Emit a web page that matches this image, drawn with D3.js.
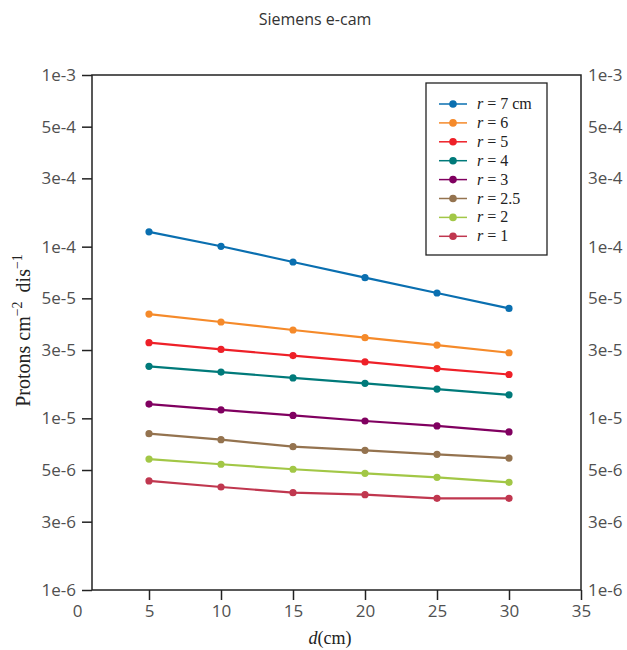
<!DOCTYPE html>
<html>
<head>
<meta charset="utf-8">
<script src="https://cdn.jsdelivr.net/npm/d3@7"></script>
<style>
  body { margin: 0; background: #fff; }
  .tick text { font-family: "Open Sans", sans-serif; fill: #505050; }
</style>
</head>
<body>
<div id="chart"></div>
<script>
// distances d (cm)
const distances = [5, 10, 15, 20, 25, 30];
const radiusLabels = ["7 cm", "6", "5", "4", "3", "2.5", "2", "1"];
const seriesColors = ["#0a6fb0", "#f58a2a", "#ee2028", "#007a7a", "#800060", "#94734f", "#a2c746", "#c0374f"];

const r7 = [1.22e-4, 1.005e-4, 8.14e-5, 6.6e-5, 5.37e-5, 4.37e-5];
const r6 = [4.05e-5, 3.64e-5, 3.27e-5, 2.95e-5, 2.67e-5, 2.41e-5];
const r5 = [2.76e-5, 2.52e-5, 2.32e-5, 2.13e-5, 1.95e-5, 1.80e-5];
const r4 = [2.01e-5, 1.86e-5, 1.72e-5, 1.60e-5, 1.48e-5, 1.37e-5];
const r3 = [1.21e-5, 1.12e-5, 1.04e-5, 9.65e-6, 9.03e-6, 8.33e-6];
const r25 = [8.14e-6, 7.51e-6, 6.84e-6, 6.51e-6, 6.17e-6, 5.87e-6];
const r2 = [5.79e-6, 5.40e-6, 5.05e-6, 4.78e-6, 4.53e-6, 4.24e-6];
const r1 = [4.32e-6, 3.98e-6, 3.69e-6, 3.59e-6, 3.42e-6, 3.42e-6];

// the "3e-x" ticks sit at 2.5e-x in the original figure
const yTicks = [1e-3, 5e-4, 2.5e-4, 1e-4, 5e-5, 2.5e-5, 1e-5, 5e-6, 2.5e-6, 1e-6];
const yTickLabels = ["1e-3", "5e-4", "3e-4", "1e-4", "5e-5", "3e-5", "1e-5", "5e-6", "3e-6", "1e-6"];
const xTicks = [0, 5, 10, 15, 20, 25, 30, 35];

const series = [r7, r6, r5, r4, r3, r25, r2, r1].map((vals, i) => ({
  label: radiusLabels[i], color: seriesColors[i],
  points: vals.map((v, j) => ({ d: distances[j], v: v }))
}));

const width = 627, height = 650;
const plotLeft = 92, plotRight = 581, plotTop = 75, plotBottom = 590;

const svg = d3.select("#chart").append("svg")
  .attr("width", width).attr("height", height);

// x scale: 0 sits left of the left frame line in the original
const x = d3.scaleLinear().domain([0, 35]).range([77, 581]);
const y = d3.scaleLog().domain([1e-6, 1e-3]).range([plotBottom, plotTop]);

// title
svg.append("text")
  .attr("x", 315).attr("y", 25)
  .attr("text-anchor", "middle")
  .style("font-family", "Open Sans, sans-serif")
  .style("font-size", "16px").style("fill", "#333")
  .text("Siemens e-cam");

// frame
svg.append("rect")
  .attr("x", plotLeft).attr("y", plotTop)
  .attr("width", plotRight - plotLeft).attr("height", plotBottom - plotTop)
  .attr("fill", "none").attr("stroke", "#222").attr("stroke-width", 1.5);

const fmt = v => yTickLabels[yTicks.indexOf(v)];

// left axis
const gLeft = svg.append("g")
  .attr("transform", `translate(${plotLeft},0)`)
  .call(d3.axisLeft(y).tickValues(yTicks).tickFormat(fmt).tickSize(10).tickPadding(6));
gLeft.select(".domain").remove();
gLeft.selectAll(".tick line").attr("stroke", "#222").attr("stroke-width", 1.5);
gLeft.selectAll(".tick text").style("font-size", "17px");

// right axis (labels only)
const gRight = svg.append("g")
  .attr("transform", `translate(${plotRight},0)`)
  .call(d3.axisRight(y).tickValues(yTicks).tickFormat(fmt).tickSize(0).tickPadding(7));
gRight.select(".domain").remove();
gRight.selectAll(".tick line").remove();
gRight.selectAll(".tick text").style("font-size", "17px");

// bottom axis
const gBottom = svg.append("g")
  .attr("transform", `translate(0,${plotBottom})`)
  .call(d3.axisBottom(x).tickValues(xTicks).tickSize(10).tickPadding(5));
gBottom.select(".domain").remove();
gBottom.selectAll(".tick line")
  .attr("stroke", "#222").attr("stroke-width", 1.5)
  .attr("display", d => d === 0 ? "none" : null);
gBottom.selectAll(".tick text").style("font-size", "17px");

// axis titles
const yTitle = svg.append("text")
  .attr("transform", `translate(30,${(plotTop + plotBottom) / 2 - 2}) rotate(-90)`)
  .attr("text-anchor", "middle")
  .style("font-family", "Liberation Serif, serif")
  .style("font-size", "20px").style("fill", "#222");
yTitle.append("tspan").text("Protons cm");
yTitle.append("tspan").attr("dy", -8).style("font-size", "14px").text("\u22122");
yTitle.append("tspan").attr("dy", 8).text("\u2009 dis");
yTitle.append("tspan").attr("dy", -8).style("font-size", "14px").text("\u22121");

const xTitle = svg.append("text")
  .attr("x", 330).attr("y", 644)
  .attr("text-anchor", "middle")
  .style("font-family", "Liberation Serif, serif")
  .style("font-size", "18px").style("fill", "#222");
xTitle.append("tspan").style("font-style", "italic").text("d");
xTitle.append("tspan").text("(cm)");

// lines + markers
const line = d3.line().x(p => x(p.d)).y(p => y(p.v));
const gSeries = svg.selectAll(".series").data(series).enter()
  .append("g").attr("class", "series");
gSeries.append("path")
  .attr("d", s => line(s.points))
  .attr("fill", "none").attr("stroke", s => s.color).attr("stroke-width", 2.2);
gSeries.selectAll("circle").data(s => s.points.map(p => ({ ...p, color: s.color }))).enter()
  .append("circle")
  .attr("cx", p => x(p.d)).attr("cy", p => y(p.v)).attr("r", 3.6)
  .attr("fill", p => p.color);

// legend
const legX = 426, legY = 83, legW = 121, legH = 172, rowH = 18.9;
const leg = svg.append("g");
leg.append("rect")
  .attr("x", legX).attr("y", legY).attr("width", legW).attr("height", legH)
  .attr("fill", "#fff").attr("stroke", "#222").attr("stroke-width", 1.3);
const items = leg.selectAll(".item").data(series).enter()
  .append("g").attr("class", "item")
  .attr("transform", (s, i) => `translate(${legX},${legY + 21 + i * rowH})`);
items.append("line")
  .attr("x1", 13).attr("x2", 41).attr("y1", 0).attr("y2", 0)
  .attr("stroke", s => s.color).attr("stroke-width", 1.5);
items.append("circle").attr("cx", 27).attr("cy", 0).attr("r", 3.8)
  .attr("fill", s => s.color);
const lt = items.append("text")
  .attr("x", 51).attr("y", 5)
  .style("font-family", "Liberation Serif, serif")
  .style("font-size", "16px").style("fill", "#222");
lt.append("tspan").style("font-style", "italic").text("r");
lt.append("tspan").text(s => " = " + s.label);
</script>
</body>
</html>
